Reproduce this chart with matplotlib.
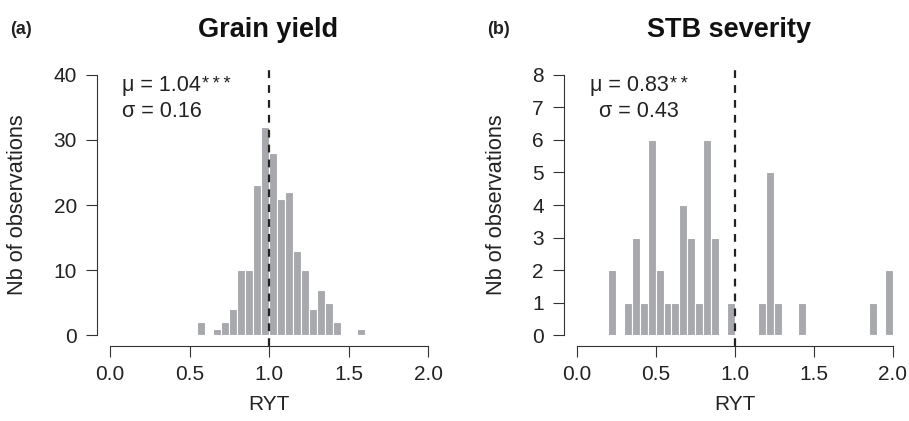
import matplotlib
matplotlib.use("Agg")
from matplotlib import pyplot as plt
import numpy as np

plt.rcParams['font.family'] = ['Liberation Sans', 'DejaVu Sans']

# histogram bins of width 0.05: left edges and counts
gy_left = [0.55, 0.65, 0.70, 0.75, 0.80, 0.85, 0.90, 0.95, 1.00, 1.05, 1.10,
           1.15, 1.20, 1.25, 1.30, 1.35, 1.40, 1.55]
gy_count = [2, 1, 2, 4, 10, 10, 23, 32, 28, 21, 22, 13, 10, 4, 7, 5, 2, 1]

stb_left = [0.20, 0.30, 0.35, 0.40, 0.45, 0.50, 0.55, 0.60, 0.65, 0.70, 0.75,
            0.80, 0.85, 0.95, 1.15, 1.20, 1.25, 1.40, 1.85, 1.95]
stb_count = [2, 1, 3, 1, 6, 2, 1, 1, 4, 3, 1, 6, 3, 1, 1, 5, 1, 1, 1, 2]

bin_w = 0.05
x_ticks = [0.0, 0.5, 1.0, 1.5, 2.0]

panels = [
    dict(left=gy_left, count=gy_count, ymax=40, yticks=[0, 10, 20, 30, 40],
         title="Grain yield", tag="(a)", mu="1.04", stars="***", sd="0.16",
         pos=[0.107, 0.179, 0.378, 0.668], mux=0.134, sdx=0.134, tagx=0.011,
         titx=0.2954, ylx=-0.201),
    dict(left=stb_left, count=stb_count, ymax=8, yticks=list(range(9)),
         title="STB severity", tag="(b)", mu="0.83", stars="**", sd="0.43",
         pos=[0.6205, 0.179, 0.3755, 0.668], mux=0.649, sdx=0.659, tagx=0.536,
         titx=0.8025, ylx=-0.167),
]

fig = plt.figure(figsize=(9.09, 4.21), dpi=100)
for p in panels:
    ax = fig.add_axes(p['pos'])
    ax.bar(p['left'], p['count'], width=bin_w, align='edge',
           color='#a8a9ad', edgecolor='white', linewidth=0.8)
    pad = p['ymax'] * 0.04
    ax.set_xlim(-0.08, 2.08)
    ax.set_ylim(-pad, p['ymax'] + pad)
    ax.axvline(1.0, ymin=0.0, ymax=0.99, color='#222222',
               linestyle=(0, (3.5, 3.2)), linewidth=1.6)
    for s in ['top', 'right']:
        ax.spines[s].set_visible(False)
    for s in ['left', 'bottom']:
        ax.spines[s].set_color('#333333')
    ax.spines['left'].set_bounds(0, p['ymax'])
    ax.spines['bottom'].set_bounds(0, 2)
    ax.set_xticks(x_ticks)
    ax.set_xticklabels([f"{v:.1f}" for v in x_ticks])
    ax.set_yticks(p['yticks'])
    ax.tick_params(direction='out', length=8, labelsize=15,
                   color='#333333', labelcolor='#222222')
    ax.tick_params(axis='x', pad=6)
    ax.tick_params(axis='y', pad=6.5)
    ax.set_xlabel("RYT", fontsize=15, color='#222222')
    ax.xaxis.set_label_coords(0.5, -0.175)
    ax.set_ylabel("Nb of observations", fontsize=15.7, color='#222222')
    ax.yaxis.set_label_coords(p['ylx'], 0.5)
    fig.text(p['titx'], 0.929, p['title'], fontsize=19.5, fontweight='bold',
             ha='center', va='center', color='#111111')
    fig.text(p['tagx'], 0.929, p['tag'], fontsize=13, fontweight='bold',
             va='center', color='#222222')
    mu_t = fig.text(p['mux'], 0.798, "\u03bc = " + p['mu'], fontsize=15.5,
                    va='center', color='#222222')
    ax.annotate("\u2009".join(p['stars']), xy=(1.0, 1.0), xycoords=mu_t,
                xytext=(1, -1), textcoords='offset points', fontsize=13,
                va='top', ha='left', color='#222222')
    fig.text(p['sdx'], 0.734, "\u03c3 = " + p['sd'], fontsize=15.5,
             va='center', color='#222222')

fig.savefig("out.png", dpi=100)
